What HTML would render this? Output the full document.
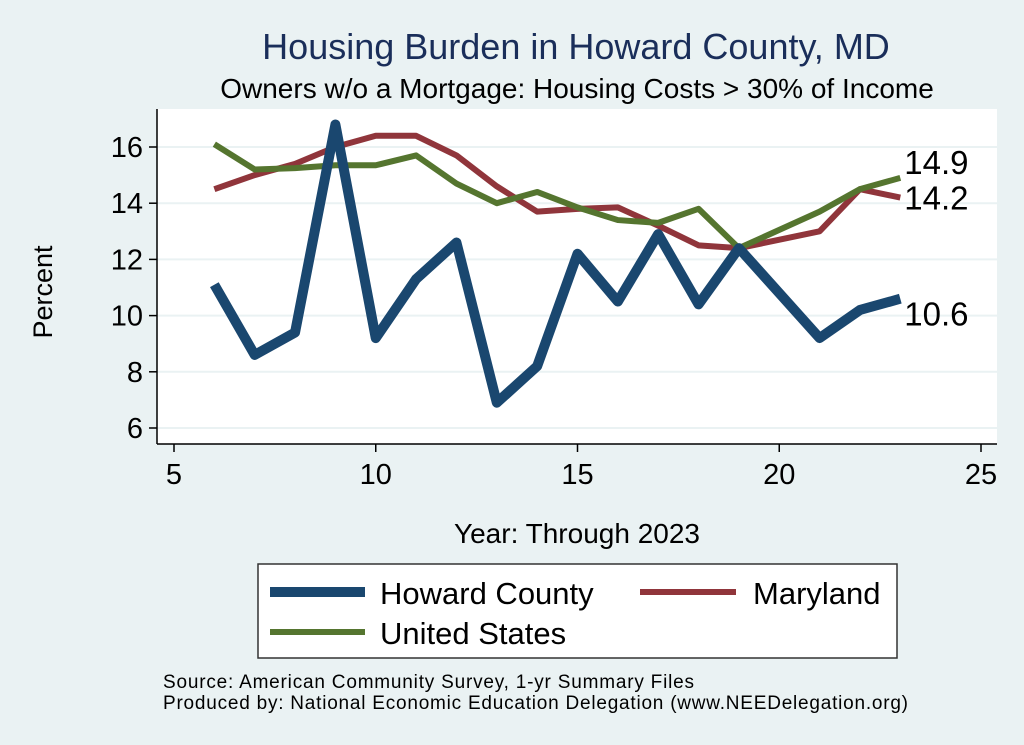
<!DOCTYPE html>
<html><head><meta charset="utf-8"><style>
body{margin:0;background:#eaf2f3;}
svg{display:block;font-family:"Liberation Sans",Arial,sans-serif;}
</style></head><body>
<svg id="chart" width="1024" height="745" xmlns="http://www.w3.org/2000/svg">
<rect x="0" y="0" width="1024" height="745" fill="#eaf2f3"/>
<text x="576" y="59" font-size="36" fill="#1a2e5a" text-anchor="middle">Housing Burden in Howard County, MD</text>
<text x="577" y="98" font-size="28" fill="#000" text-anchor="middle">Owners w/o a Mortgage: Housing Costs &gt; 30% of Income</text>
<rect x="157" y="109" width="840" height="335" fill="#fff"/>
<g id="grid"></g><g id="axes"></g><g id="series"></g>
<text transform="translate(52,292) rotate(-90)" font-size="27" text-anchor="middle">Percent</text>
<text x="577" y="543" font-size="28" text-anchor="middle">Year: Through 2023</text>
<g>
<rect x="258" y="564" width="639" height="94" fill="#fff" stroke="#333" stroke-width="1.5"/>
<line x1="270" y1="592" x2="365" y2="592" stroke="#1a476f" stroke-width="10"/>
<text x="380" y="604" font-size="31">Howard County</text>
<line x1="640" y1="592" x2="736" y2="592" stroke="#90353b" stroke-width="6"/>
<text x="753" y="604" font-size="31">Maryland</text>
<line x1="270" y1="632" x2="365" y2="632" stroke="#55752f" stroke-width="6"/>
<text x="380" y="644" font-size="31">United States</text>
</g>
<text x="163" y="688" font-size="19" textLength="531">Source: American Community Survey, 1-yr Summary Files</text>
<text x="163" y="709" font-size="19" textLength="745">Produced by: National Economic Education Delegation (www.NEEDelegation.org)</text>
</svg>
<script>
const years=[6,7,8,9,10,11,12,13,14,15,16,17,18,19,21,22,23];
const howard=[11.1,8.6,9.4,16.8,9.2,11.3,12.6,6.9,8.2,12.2,10.5,12.9,10.4,12.4,9.2,10.2,10.6];
const maryland=[14.5,15.0,15.4,16.0,16.4,16.4,15.7,14.6,13.7,13.8,13.85,13.2,12.5,12.4,13.0,14.5,14.2];
const us=[16.1,15.2,15.25,15.35,15.35,15.7,14.7,14.0,14.4,13.85,13.4,13.3,13.8,12.4,13.7,14.5,14.9];
const xTicks=[5,10,15,20,25];
const yTicks=[6,8,10,12,14,16];
const endLabels=["10.6","14.2","14.9"];
const NS="http://www.w3.org/2000/svg";
const sx=v=>174+(v-5)*(981-174)/20;
const sy=v=>147+(16-v)*(428-147)/10;
function mk(tag,attrs,parent){const e=document.createElementNS(NS,tag);for(const k in attrs)e.setAttribute(k,attrs[k]);parent.appendChild(e);return e;}
const grid=document.getElementById('grid'),axes=document.getElementById('axes'),ser=document.getElementById('series');
yTicks.forEach(t=>{
 const g=mk('line',{x1:157,x2:997,y1:sy(t),y2:sy(t),stroke:'#eaf2f3','stroke-width':2},grid);
 
 
 mk('line',{x1:149,x2:157,y1:sy(t),y2:sy(t),stroke:'#000','stroke-width':1.5},axes);
 const l=mk('text',{x:143,y:sy(t)+10,'font-size':29,'text-anchor':'end'},axes);l.textContent=t;
 
 
});
xTicks.forEach(t=>{
 mk('line',{x1:sx(t),x2:sx(t),y1:444,y2:452,stroke:'#000','stroke-width':1.5},axes);
 const l=mk('text',{x:sx(t),y:484,'font-size':29,'text-anchor':'middle'},axes);l.textContent=t;
 
 
});
const ya=mk('line',{x1:157,x2:157,y1:109,y2:444,stroke:'#000','stroke-width':1.5},axes);


const xa=mk('line',{x1:157,x2:997,y1:444,y2:444,stroke:'#000','stroke-width':1.5},axes);


function line(vals,color,w,name){
 const p=mk('polyline',{points:years.map((y,i)=>sx(y)+','+sy(vals[i])).join(' '),fill:'none',stroke:color,'stroke-width':w,'stroke-linejoin':'round'},ser);
 
 
}
line(maryland,'#90353b',6,'line-maryland');
line(us,'#55752f',6,'line-united-states');
line(howard,'#1a476f',10,'line-howard-county');
const last=years.length-1;
[[howard,endLabels[0],'end-label-howard',27],[maryland,endLabels[1],'end-label-maryland',12],[us,endLabels[2],'end-label-us',-4]].forEach(([v,txt,n,dy])=>{
 const t=mk('text',{x:sx(years[last])+4,y:sy(v[last])+dy,'font-size':33},ser);t.textContent=txt;
 
 
});
</script>
</body></html>
